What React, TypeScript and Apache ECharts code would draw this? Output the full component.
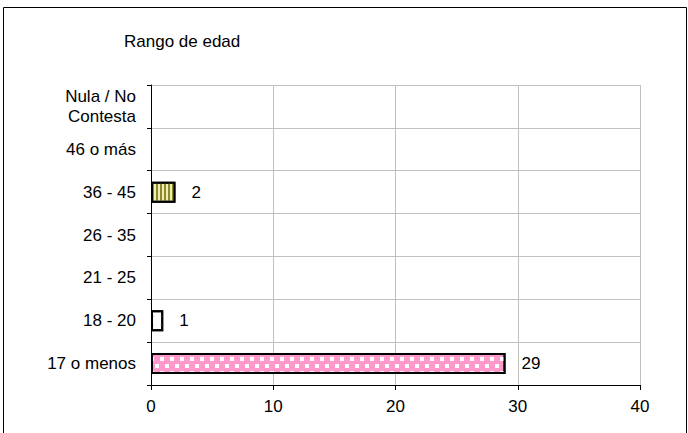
import React, { useEffect, useRef } from "react";
import * as echarts from "echarts";

const categories = ["17 o menos", "18 - 20", "21 - 25", "26 - 35", "36 - 45", "46 o más", "Nula / No\nContesta"];
const values = [29, 1, 0, 0, 2, 0, 0];
const xTicks = { min: 0, max: 40, interval: 10 };
const titleText = "Rango de edad";

const FONT = "'Liberation Sans', Arial, sans-serif";
const FS = 17;

const pinkStyle = {
  color: "#ff99cc",
  borderColor: "#000",
  borderWidth: 2,
  decal: {
    symbol: "rect",
    symbolSize: 1,
    symbolKeepAspect: false,
    color: "#ffffff",
    dashArrayX: [[4, 6], [0, 5, 4, 1]],
    dashArrayY: [4, 3],
    rotation: 0,
  },
};
const blueDotStyle = {
  color: "#ffffff",
  borderColor: "#000",
  borderWidth: 2,
  decal: {
    symbol: "rect",
    symbolSize: 1,
    symbolKeepAspect: false,
    color: "#d4e6f7",
    dashArrayX: [2, 6],
    dashArrayY: [2, 7],
    rotation: 0,
  },
};
const oliveStyle = {
  color: "#eeeeb4",
  borderColor: "#000",
  borderWidth: 2,
  decal: {
    symbol: "rect",
    symbolSize: 1,
    symbolKeepAspect: false,
    color: "#8c8c2a",
    dashArrayX: [2, 2],
    dashArrayY: [4, 0],
    rotation: 0,
  },
};
const styles = [pinkStyle, blueDotStyle, pinkStyle, pinkStyle, oliveStyle, pinkStyle, pinkStyle];

export default function App() {
  const ref = useRef<HTMLDivElement>(null);
  useEffect(() => {
    const chart = echarts.init(ref.current!, null, { renderer: "svg" });
    chart.setOption({
      animation: false,
      backgroundColor: "#ffffff",
      textStyle: { fontFamily: FONT },
      graphic: [
        {
          type: "rect",
          shape: { x: 3.5, y: 7.5, width: 683, height: 440 },
          style: { fill: "none", stroke: "#000", lineWidth: 1 },
          z: 100,
        },
        {
          type: "text",
          x: 124,
          y: 41,
          style: {
            text: titleText,
            fill: "#000",
            font: `${FS}px ${FONT}`,
            verticalAlign: "middle",
            align: "left",
          },
        },
      ],
      grid: { left: 151, top: 85, right: 48, bottom: 48, containLabel: false },
      xAxis: {
        type: "value",
        min: xTicks.min,
        max: xTicks.max,
        interval: xTicks.interval,
        axisLine: { show: true, lineStyle: { color: "#000", width: 1 } },
        axisTick: { show: true, length: 5, lineStyle: { color: "#000" } },
        axisLabel: { color: "#000", fontSize: FS, fontFamily: FONT, margin: 13 },
        splitLine: { show: true, lineStyle: { color: "#c0c0c0", width: 1 } },
      },
      yAxis: {
        type: "category",
        data: categories,
        axisLine: { show: true, lineStyle: { color: "#000", width: 1 } },
        axisTick: { show: true, length: 4, alignWithLabel: false, lineStyle: { color: "#000" } },
        axisLabel: { color: "#000", fontSize: FS, fontFamily: FONT, margin: 15, lineHeight: 20 },
        splitLine: { show: true, lineStyle: { color: "#c0c0c0", width: 1 } },
      },
      series: [
        {
          type: "bar",
          barWidth: 21,
          data: values.map((v, i) => ({
            value: v,
            itemStyle: v ? styles[i] : { ...styles[i], borderWidth: 0 },
          })),
          label: {
            show: true,
            position: "right",
            distance: 16,
            color: "#000",
            fontSize: FS,
            fontFamily: FONT,
            formatter: (p: any) => (p.value ? String(p.value) : ""),
          },
        },
      ],
    });
    return () => chart.dispose();
  }, []);
  return (
    <div
      ref={ref}
      style={{ position: "fixed", left: 0, top: 0, width: 688, height: 433 }}
    />
  );
}
